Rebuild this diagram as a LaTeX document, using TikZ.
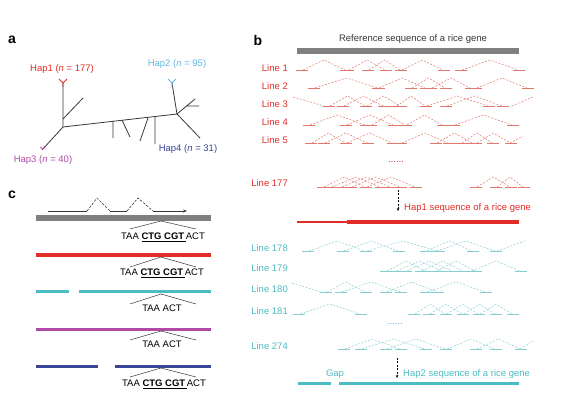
\documentclass[tikz,border=0pt]{standalone}
\usepackage{fontspec}
\setmainfont{Liberation Sans}
\usetikzlibrary{arrows.meta}

\definecolor{hapred}{RGB}{226,45,40}
\definecolor{readred}{RGB}{224,120,110}
\definecolor{hapcyan}{RGB}{75,188,194}
\definecolor{readcyan}{RGB}{135,206,210}
\definecolor{haplight}{RGB}{95,185,225}
\definecolor{happurple}{RGB}{175,75,165}
\definecolor{hapnavy}{RGB}{55,70,150}
\definecolor{refgray}{RGB}{128,128,128}
\definecolor{treegray}{RGB}{55,55,55}

% one row of paired reads: colour, base line, list of left/right starts
\newcommand{\readrow}[3]{%
  \foreach \a/\b in {#3}{
    \draw[#1, line width=0.7pt] (\a,#2) -- ++(12,0) (\b,#2) -- ++(12,0);
    \draw[#1, readlink] (\a+7,#2) -- ({(\a+\b)/2+6},#2-10) -- (\b+5,#2);
  }}

\begin{document}
\begin{tikzpicture}[x=1pt,y=-1pt,
    panlab/.style={font=\fontsize{14}{16}\selectfont\bfseries},
    txt/.style={font=\fontsize{9.5}{11}\selectfont, inner sep=0pt},
    linelab/.style={txt, anchor=east},
    readlink/.style={line width=0.5pt, dash pattern=on 2pt off 1.5pt},
    branch/.style={treegray, line width=0.8pt},
    vmark/.style={treegray, line width=0.5pt},
    track/.style={line width=#1},
  ]
  \useasboundingbox (0,0) rectangle (571,398);

  % ---- a
  \node[panlab] (pa) at (12,40) {a};
  \coordinate (h1) at (63,83);
  \coordinate (h2) at (172,83);
  \coordinate (h3) at (42,150);
  \coordinate (h4) at (200,138);
  \coordinate (j1) at (63,127);
  \coordinate (j2) at (177,114);
  \draw[branch] (h1) -- (j1) -- (h3);
  \draw[branch] (j1) -- (j2) -- (h2);
  \draw[branch] (j2) -- (h4);
  \draw[branch] (63,119) -- (83,98);
  \draw[branch] (j2) -- (195,99) (186,106) -- (199,106);
  \draw[branch] (113,121) -- (113,138) (122,120) -- (130,137)
                (148,118) -- (140,141) (155,117) -- (155,144);
  % tips
  \draw[hapred, line width=0.8pt] (63,87) -- (h1) -- (59,79) (h1) -- (67,79);
  \draw[haplight, line width=0.8pt] (172,87) -- (h2) -- (168,79) (h2) -- (176,79);
  \draw[happurple, line width=0.8pt] (45,146) -- (h3) (43,149) -- (40,147);
  \node[txt, text=hapred] (t1) at (62,69) {Hap1 (\textit{n} = 177)};
  \node[txt, text=haplight] (t2) at (177,64) {Hap2 (\textit{n} = 95)};
  \node[txt, text=happurple] (t3) at (43,160) {Hap3 (\textit{n} = 40)};
  \node[txt, text=hapnavy] (t4) at (188,149) {Hap4 (\textit{n} = 31)};

  % ---- c
  \node[panlab] (pc) at (12,195) {c};
  \draw[treegray, line width=0.6pt] (48,211) -- (87,211) (110,211) -- (127,211);
  \draw[treegray, line width=0.6pt, -{Stealth[length=4pt,width=3pt]}] (153,211) -- (187,211);
  \draw[treegray, line width=0.6pt, dash pattern=on 2.5pt off 1.5pt]
    (87,211) -- (97,198) -- (110,211) (127,211) -- (138,198) -- (153,211);
  \draw[refgray, track=5.5pt] (36,218) -- (211,218);
  \draw[hapred, track=4pt] (36,255) -- (211,255);
  \draw[hapcyan, track=3pt] (36,292) -- (69,292) (79,292) -- (211,292);
  \draw[happurple, track=3pt] (36,329.5) -- (211,329.5);
  \draw[hapnavy, track=3.5pt] (36,366.5) -- (98,366.5) (115,366.5) -- (211,366.5);
  \foreach \y/\d in {221/8, 257/10, 294/10, 331/9, 368/9}
    \draw[vmark] (130,\y+\d) -- (161,\y) -- (196,\y+\d);
  \node[txt] (s1) at (163,237) {TAA \underline{\textbf{CTG CGT}\,}ACT};
  \node[txt] (s2) at (162,273) {TAA \underline{\textbf{CTG CGT}\,}ACT};
  \node[txt] (s3) at (162,308) {TAA ACT};
  \node[txt] (s4) at (162,344) {TAA ACT};
  \node[txt] (s5) at (164,384) {TAA \underline{\textbf{CTG CGT}\,}ACT};

  % ---- b
  \node[panlab] (pb) at (258,40) {b};
  \node[txt, text=treegray] (ref) at (413,39) {Reference sequence of a rice gene};
  \draw[refgray, track=6pt] (297,51) -- (519,51);

  \node[linelab, text=hapred] (l1) at (288,68) {Line 1};
  \node[linelab, text=hapred] (l2) at (288,86) {Line 2};
  \node[linelab, text=hapred] (l3) at (288,104) {Line 3};
  \node[linelab, text=hapred] (l4) at (288,122) {Line 4};
  \node[linelab, text=hapred] (l5) at (288,140) {Line 5};
  \node[txt, text=hapred] (dots1) at (396,162) {......};
  \node[linelab, text=hapred] (l177) at (288,183) {Line 177};

  \readrow{readred}{70}{296/340, 342/380, 362/395, 395/438, 455/513}
  \readrow{readred}{88}{308/373, 372/420, 405/440, 425/465, 470/522}
  \readrow{readred}{106}{323/360, 337/378, 360/395, 390/420, 420/483, 440/497}
  \readrow{readred}{125}{303/360, 340/388, 365/400, 400/437, 448/507}
  \readrow{readred}{143}{305/340, 318/362, 340/387, 395/443, 430/467, 455/487, 470/505}
  \readrow{readred}{187}{317/360, 325/375, 335/385, 345/395, 360/410, 470/505, 490/518}
  \draw[readred, readlink] (293,97) -- (324,106) (512,106) -- (533,97) (510,143) -- (523,136);

  \coordinate (a1s) at (398,190);
  \coordinate (a1e) at (398,211);
  \draw[black, line width=0.5pt, dash pattern=on 2pt off 1.5pt, -{Stealth[length=3pt,width=2.5pt]}] (a1s) -- (a1e);
  \node[txt, text=hapred, anchor=west] (hap1seq) at (404,208) {Hap1 sequence of a rice gene};
  \draw[hapred, track=2.5pt] (297,222) -- (347,222);
  \draw[hapred, track=4pt] (347,222) -- (519,222);

  \node[linelab, text=hapcyan] (l178) at (288,248) {Line 178};
  \node[linelab, text=hapcyan] (l179) at (288,268) {Line 179};
  \node[linelab, text=hapcyan] (l180) at (288,289) {Line 180};
  \node[linelab, text=hapcyan] (l181) at (288,311) {Line 181};
  \node[txt, text=hapcyan] (dots2) at (395,324) {......};
  \node[linelab, text=hapcyan] (l274) at (288,346) {Line 274};

  \readrow{readcyan}{251}{302/360, 337/393, 360/433, 420/467, 430/490}
  \readrow{readcyan}{271}{380/420, 390/437, 400/447, 415/458, 430/470, 465/515}
  \readrow{readcyan}{292}{320/360, 335/395, 380/432, 420/480}
  \readrow{readcyan}{314}{293/355, 408/440, 423/457, 440/473, 457/490, 473/507}
  \readrow{readcyan}{349}{338/395, 355/420, 380/440, 440/490, 470/515}
  \draw[readcyan, readlink] (497,251) -- (525,241) (292,283) -- (321,292) (520,349) -- (533,341);

  \coordinate (a2s) at (397,358);
  \coordinate (a2e) at (397,378);
  \draw[black, line width=0.5pt, dash pattern=on 2pt off 1.5pt, -{Stealth[length=3pt,width=2.5pt]}] (a2s) -- (a2e);
  \node[txt, text=hapcyan] (gap) at (335,374) {Gap};
  \node[txt, text=hapcyan, anchor=west] (hap2seq) at (403,374) {Hap2 sequence of a rice gene};
  \draw[hapcyan, track=3pt] (298,384) -- (331,384) (339,384) -- (519,384);
\end{tikzpicture}
\end{document}
